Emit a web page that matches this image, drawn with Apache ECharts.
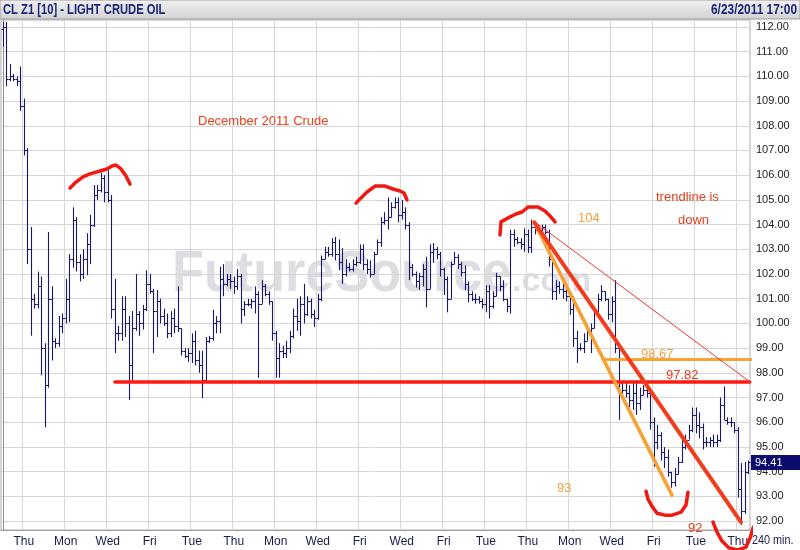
<!DOCTYPE html>
<html><head><meta charset="utf-8">
<script src="https://cdn.jsdelivr.net/npm/echarts@6/dist/echarts.min.js"></script>
<style>html,body{margin:0;padding:0;background:#fff}#c{width:800px;height:550px}</style>
</head><body><div id="c"></div>
<script>
// ---- trading days (240-min bars) ----
const dayDates = ['5/4','5/5','5/6','5/9','5/10','5/11','5/12','5/13','5/16','5/17','5/18','5/19','5/20','5/23','5/24','5/25','5/26','5/27','5/31','6/1','6/2','6/3','6/6','6/7','6/8','6/9','6/10','6/13','6/14','6/15','6/16','6/17','6/20','6/21','6/22','6/23'];
const dayNames = ['Wed','Thu','Fri','Mon','Tue','Wed','Thu','Fri','Mon','Tue','Wed','Thu','Fri','Mon','Tue','Wed','Thu','Fri','Tue','Wed','Thu','Fri','Mon','Tue','Wed','Thu','Fri','Mon','Tue','Wed','Thu','Fri','Mon','Tue','Wed','Thu'];
const barsPerDay = [6,6,6,6,6,6,6,6,6,6,6,6,6,6,6,6,6,6,6,6,6,6,6,6,6,6,6,6,6,6,6,6,6,6,6,4];

// ---- OHLC values ----
const opens = [
111.9,112.0,109.9,110.0,109.9,109.8,
108.8,107.0,103.0,101.0,100.8,101.5,
99.0,97.5,101.0,99.3,99.2,99.9,
100.2,101.0,102.6,104.2,102.5,102.0,
102.6,103.2,104.0,105.2,105.4,105.9,
105.3,105.0,100.6,99.6,99.6,100.6,
100.0,98.3,99.8,100.4,100.0,100.6,
101.6,101.3,100.5,100.9,100.3,100.0,
99.6,100.2,99.9,99.8,98.9,98.7,
98.8,99.3,98.5,98.3,97.7,99.3,
99.4,100.0,100.1,101.8,101.6,101.8,
101.7,101.5,101.9,100.6,100.8,100.8,
100.9,101.2,100.8,101.5,101.2,100.9,
99.6,98.6,98.9,98.8,99.0,99.5,
100.3,100.1,100.8,100.4,100.9,100.4,
100.2,101.0,102.6,102.9,102.8,103.3,
102.8,102.5,102.0,102.3,102.2,102.4,
102.5,103.0,102.4,102.2,102.0,102.8,
103.3,104.1,104.2,104.3,104.7,104.9,
104.4,104.5,104.0,102.3,102.0,101.7,
101.9,102.2,101.4,102.9,103.0,102.8,
102.2,101.8,101.0,102.4,102.7,102.4,
102.1,101.6,101.2,101.0,101.0,100.9,
100.8,101.3,100.7,101.1,101.9,101.5,
101.0,100.7,103.6,103.4,103.3,103.2,
103.6,103.1,103.9,103.8,103.8,103.9,
103.7,102.6,101.3,101.5,101.4,101.3,
101.1,100.6,99.4,99.0,99.0,99.3,
99.7,99.8,100.5,101.0,101.3,101.0,
100.4,100.9,99.0,97.2,97.3,97.2,
96.9,97.2,96.8,97.1,97.3,97.2,
96.0,95.2,95.5,94.8,94.6,94.0,
93.6,93.9,94.4,95.0,95.3,95.7,
96.3,95.9,95.8,95.2,95.2,95.3,
95.2,95.3,96.7,96.1,96.0,96.0,
95.7,93.3,92.4,94.0];
const highs = [
112.2,112.2,110.5,110.1,110.0,110.4,
109.1,107.1,103.9,101.2,102.1,101.9,
99.2,103.7,101.5,99.4,100.3,100.4,
101.8,102.8,104.7,104.3,102.8,103.0,
103.65,104.4,105.6,105.6,106.1,106.0,
106.2,105.2,101.8,99.9,101.1,101.1,
100.3,100.5,102.0,100.5,100.75,102.15,
102.0,101.4,101.35,101.0,100.6,100.4,
100.5,100.6,101.5,99.8,99.0,99.0,
99.6,99.7,98.9,98.9,99.45,99.5,
100.55,100.3,102.3,102.4,102.0,102.0,
101.9,102.2,102.0,100.9,101.0,101.0,
101.5,101.3,101.75,101.6,101.3,100.9,
99.7,99.2,99.1,99.3,99.7,100.6,
101.0,101.1,101.6,101.1,101.0,100.55,
101.2,102.75,103.1,103.1,103.45,103.5,
103.4,103.05,102.6,102.45,102.6,102.7,
103.2,103.2,102.6,102.55,102.9,103.4,
104.3,104.5,105.1,104.9,105.1,105.1,
105.0,104.7,104.1,102.4,102.1,102.05,
102.4,102.7,103.2,103.25,103.1,102.9,
102.25,101.9,102.5,102.9,102.8,102.5,
102.35,101.7,101.3,101.2,101.1,101.0,
101.55,101.55,101.3,102.05,101.9,101.75,
101.0,103.8,103.8,103.5,103.45,103.85,
103.8,104.2,104.0,104.0,104.0,104.0,
103.8,102.6,101.75,101.7,101.75,101.5,
101.2,101.1,99.7,99.2,99.6,99.9,
100.0,100.65,101.2,101.55,101.3,101.0,
101.1,101.75,99.0,97.6,97.6,97.5,
97.6,97.7,97.4,97.5,97.6,97.2,
96.2,95.9,95.6,95.0,94.9,94.0,
94.15,94.6,95.3,95.5,95.9,96.6,
96.6,96.4,95.95,95.4,95.4,95.5,
95.5,97.0,97.45,96.2,96.2,96.0,
95.8,94.35,94.4,94.45];
const lows = [
111.2,109.6,109.8,109.8,109.6,108.6,
106.8,102.4,99.5,100.6,100.6,97.9,
95.8,97.4,98.5,99.0,99.05,99.6,
100.0,100.05,102.25,102.1,101.7,101.8,
101.95,102.4,103.9,105.0,105.3,104.9,
104.9,100.2,98.8,99.3,99.3,99.45,
96.9,97.6,99.7,99.5,99.75,100.5,
101.2,98.8,99.45,100.0,99.9,99.4,
99.45,99.6,99.65,98.7,98.6,98.45,
98.4,98.3,98.0,96.98,97.7,99.2,
99.3,99.6,99.6,101.1,101.5,101.4,
101.2,101.35,100.0,100.3,100.7,100.6,
100.4,97.8,100.8,101.1,100.75,99.3,
97.8,97.8,98.6,98.6,98.8,99.4,
99.7,99.5,100.0,100.3,100.2,99.85,
100.15,100.9,102.6,102.7,102.7,102.55,
102.15,101.6,101.9,102.1,102.1,102.3,
102.4,102.15,102.0,101.85,102.0,102.8,
103.1,104.0,103.8,104.3,104.65,104.1,
104.2,103.8,101.75,101.9,101.45,101.35,
101.5,100.65,101.4,102.45,102.6,101.9,
101.15,100.45,101.0,102.4,102.2,101.9,
101.35,100.85,100.9,100.8,100.8,100.6,
100.45,100.2,100.6,101.1,101.3,100.9,
100.45,100.4,103.1,103.2,103.0,102.9,
102.85,102.85,103.6,103.7,103.7,103.6,
102.3,100.95,100.95,101.2,101.0,100.9,
100.35,99.05,98.4,98.9,98.8,99.3,
98.8,99.8,100.45,100.9,100.9,100.15,
100.05,98.8,96.1,96.9,97.0,96.6,
96.5,96.3,96.5,97.1,97.0,95.7,
94.2,94.9,94.45,94.15,93.8,93.35,
93.4,93.9,94.35,94.9,95.3,95.6,
95.55,95.35,94.9,95.0,95.0,95.0,
95.0,95.2,96.1,95.9,95.8,95.55,
92.95,91.85,92.3,93.9];
const closes = [
112.0,109.9,110.0,109.9,109.8,108.8,
107.0,103.0,101.0,100.8,101.5,99.0,
97.5,101.0,99.3,99.2,99.9,100.2,
101.0,102.6,104.2,102.5,102.0,102.6,
103.2,104.0,105.2,105.4,105.9,105.3,
105.0,100.6,99.6,99.6,100.6,100.0,
98.3,99.8,100.4,100.0,100.6,101.6,
101.3,100.5,100.9,100.3,100.0,99.6,
100.2,99.9,99.8,98.9,98.7,98.8,
99.3,98.5,98.3,97.7,99.3,99.4,
100.0,100.1,101.8,101.6,101.8,101.7,
101.5,101.9,100.6,100.8,100.8,100.9,
101.2,100.8,101.5,101.2,100.9,99.6,
98.6,98.9,98.8,99.0,99.5,100.3,
100.1,100.8,100.4,100.9,100.4,100.2,
101.0,102.6,102.9,102.8,103.3,102.8,
102.5,102.0,102.3,102.2,102.4,102.5,
103.0,102.4,102.2,102.0,102.8,103.3,
104.1,104.2,104.3,104.7,104.9,104.4,
104.5,104.0,102.3,102.0,101.7,101.9,
102.2,101.4,102.9,103.0,102.8,102.2,
101.8,101.0,102.4,102.7,102.4,102.1,
101.6,101.2,101.0,101.0,100.9,100.8,
101.3,100.7,101.1,101.9,101.5,101.0,
100.7,103.6,103.4,103.3,103.2,103.6,
103.1,103.9,103.8,103.8,103.9,103.7,
102.6,101.3,101.5,101.4,101.3,101.1,
100.6,99.4,99.0,99.0,99.3,99.7,
99.8,100.5,101.0,101.3,101.0,100.4,
100.9,99.0,97.2,97.3,97.2,96.9,
97.2,96.8,97.1,97.3,97.2,96.0,
95.2,95.5,94.8,94.6,94.0,93.6,
93.9,94.4,95.0,95.3,95.7,96.3,
95.9,95.8,95.2,95.2,95.3,95.2,
95.3,96.7,96.1,96.0,96.0,95.7,
93.3,92.4,94.0,94.41];

// ---- hand-drawn annotations, in data space [bar index, price] ----
const supportLine   = [[32.07, 97.63], [213.43, 97.63]];
const resistLine    = [[171.5, 98.54], [214.1, 98.54]];
const trendRed      = [[151.93, 104.08], [210.93, 91.96]];
const trendOrange   = [[151.79, 104.11], [191.21, 93.05]];
const trendThin     = [[152.07, 104.10], [213.5, 97.63]];
const arcA = [[19.21,105.48],[20.93,105.72],[22.93,105.93],[24.93,106.05],[27.79,106.17],[29.79,106.25],[31.21,106.37],[32.36,106.41],[33.79,106.25],[35.21,105.97],[36.36,105.64]];
const arcB = [[100.93,104.87],[102.36,105.08],[104.07,105.32],[106.36,105.56],[109.21,105.56],[111.5,105.44],[113.5,105.36],[114.64,105.28],[115.5,105.0]];
const arcC = [[142.07,103.58],[142.36,104.11],[144.36,104.27],[146.64,104.43],[148.36,104.51],[150.07,104.71],[152.93,104.71],[154.93,104.55],[156.36,104.35],[157.79,104.11]];
const arcD = [[183.79,93.21],[184.36,92.89],[185.5,92.6],[186.93,92.32],[189.21,92.24],[191.21,92.24],[193.79,92.36],[195.21,92.65],[195.79,93.17]];
const arcE = [[202.93,91.96],[204.07,91.55],[205.5,91.19],[207.5,90.91],[210.07,90.83],[212.36,90.95],[213.5,91.31],[214.36,91.72],[215.79,92.04]];
const lastPrice = 94.41;

// ---- build categories ----
const categories = [], barDay = [], firstOfDay = [];
dayDates.forEach((d, di) => {
  for (let k = 0; k < barsPerDay[di]; k++) {
    categories.push(d + ' #' + (k + 1));
    barDay.push(di);
    firstOfDay.push(k === 0);
  }
});
const ohlc = opens.map((o, i) => [i, o, highs[i], lows[i], closes[i]]);
const isTick = (i) => firstOfDay[i] && barDay[i] % 2 === 1;

const NAVY = '#18186e';
const FONT = '"Liberation Sans", Arial, sans-serif';
const NARROW = '"Liberation Sans Narrow", "Arial Narrow", "Liberation Sans", sans-serif';

function renderOHLC(params, api) {
  const i = api.value(0);
  const pO = api.coord([i, api.value(1)]);
  const pH = api.coord([i, api.value(2)]);
  const pL = api.coord([i, api.value(3)]);
  const pC = api.coord([i, api.value(4)]);
  const x = Math.round(pH[0]) + 0.5;
  const yo = Math.round(pO[1]) + 0.5, yc = Math.round(pC[1]) + 0.5;
  const st = { stroke: NAVY, lineWidth: 1.1 };
  return { type: 'group', children: [
    { type: 'line', shape: { x1: x, y1: pH[1], x2: x, y2: pL[1] }, style: st },
    { type: 'line', shape: { x1: x - 2, y1: yo, x2: x, y2: yo }, style: st },
    { type: 'line', shape: { x1: x, y1: yc, x2: x + 2, y2: yc }, style: st }
  ]};
}

function annot(data, color, width) {
  return { type: 'line', xAxisIndex: 1, yAxisIndex: 0, data: data, symbol: 'none',
    clip: false, silent: true, z: 5, animation: false,
    lineStyle: { color: color, width: width, cap: 'round', join: 'round' } };
}

const chart = echarts.init(document.getElementById('c'), null, { renderer: 'canvas' });
const txt = (x, y, s, color, extra, sx) => ({ type: 'text', x: x, y: y, z: 50, scaleX: sx || 1,
  style: Object.assign({ text: s, fill: color, font: '13px ' + FONT, textVerticalAlign: 'middle' }, extra || {}) });

chart.setOption({
  animation: false,
  backgroundColor: '#ffffff',
  grid: { left: 1, right: 50, top: 20, bottom: 20, show: true, borderColor: '#a8a8a8', borderWidth: 1, backgroundColor: 'transparent', outerBoundsMode: 'none' },
  xAxis: [{
    type: 'category', data: categories, boundaryGap: true,
    axisLine: { show: true, lineStyle: { color: '#a0a0a0' } },
    axisTick: { show: false },
    axisLabel: { interval: (i) => isTick(i), formatter: (v, i) => dayNames[barDay[i]], color: '#1a1a50', fontFamily: NARROW, fontSize: 12, margin: 6, hideOverlap: false },
    splitLine: { show: true, interval: (i) => isTick(i), lineStyle: { color: '#d6d6d6', width: 1 } }
  }, {
    type: 'value', min: -0.5, max: 213.5, show: false, gridIndex: 0
  }],
  yAxis: [{
    type: 'value', position: 'right', min: 91.64, max: 112.28, splitNumber: 20, minInterval: 1, maxInterval: 1,
    axisLine: { show: true, lineStyle: { color: '#909090' } },
    axisTick: { show: false },
    axisLabel: { color: '#222', fontFamily: FONT, fontSize: 11, margin: 6,
      formatter: (v) => Math.abs(v - Math.round(v)) < 1e-6 ? v.toFixed(2) : '' , showMinLabel: false, showMaxLabel: false},
    splitLine: { show: true, lineStyle: { color: '#d6d6d6', width: 1 } }
  }],
  series: [
    { type: 'custom', name: 'CL Z1', renderItem: renderOHLC, data: ohlc, encode: { x: 0, y: [1, 2, 3, 4] }, z: 3, clip: false },
    annot(supportLine, '#ff1a10', 3.5),
    annot(resistLine, '#f7a436', 3),
    annot(trendThin, '#ee3a28', 1),
    annot(trendOrange, '#f7a033', 3.5),
    annot(trendRed, '#f23c1c', 4),
    annot(arcA, '#f01810', 3.5),
    annot(arcB, '#f01810', 3.5),
    annot(arcC, '#f01810', 3.5),
    annot(arcD, '#f01810', 3.5),
    annot(arcE, '#f01810', 3.5)
  ],
  graphic: [
    { type: 'text', x: 172, y: 275, z: -10, scaleX: 0.9, style: { text: 'FutureSource', fill: '#dedee2', font: 'bold 58px ' + FONT, textVerticalAlign: 'middle' } },
    { type: 'text', x: 512, y: 282, z: -10, style: { text: '.com', fill: '#dedee2', font: 'bold 34px ' + FONT, textVerticalAlign: 'middle' } },
    { type: 'rect', shape: { x: 0, y: 0, width: 800, height: 19 }, z: 40,
      style: { fill: new echarts.graphic.LinearGradient(0, 0, 0, 1, [{ offset: 0, color: '#f2f2f2' }, { offset: 1, color: '#d2d2d2' }]), stroke: '#9a9a9a', lineWidth: 1 } },
    txt(3, 10, 'CL Z1 [10] - LIGHT CRUDE OIL', '#1b2878', { font: 'bold 14px ' + NARROW }, 0.8),
    txt(797, 10, '6/23/2011 17:00', '#1b2878', { font: 'bold 14px ' + NARROW, textAlign: 'right' }, 0.85),
    txt(752, 541, '240 min.', '#1a1a50', { font: '12px ' + NARROW }, 0.9),
    txt(198, 121, 'December 2011 Crude', '#e8401c'),
    txt(578, 218, '104', '#f2a040'),
    txt(656, 197, 'trendline is', '#e8401c'),
    txt(678, 220, 'down', '#e8401c'),
    txt(641, 354, '98.67', '#f2a040'),
    txt(666, 375, '97.82', '#e8401c'),
    txt(557, 488, '93', '#f2a040'),
    txt(688, 528, '92', '#e8401c')
  ]
});

// last-price tag on the right axis, positioned through the y scale
const py = chart.convertToPixel({ yAxisIndex: 0 }, lastPrice);
chart.setOption({ graphic: [
  { type: 'rect', id: 'tag', shape: { x: 751, y: Math.round(py) - 7, width: 49, height: 15 }, z: 60, style: { fill: '#0c0c6e' } },
  { type: 'text', id: 'tagt', x: 755, y: Math.round(py) + 0.5, z: 61, style: { text: lastPrice.toFixed(2), fill: '#ffffff', font: '11px ' + FONT, textVerticalAlign: 'middle' } }
] });
</script></body></html>
